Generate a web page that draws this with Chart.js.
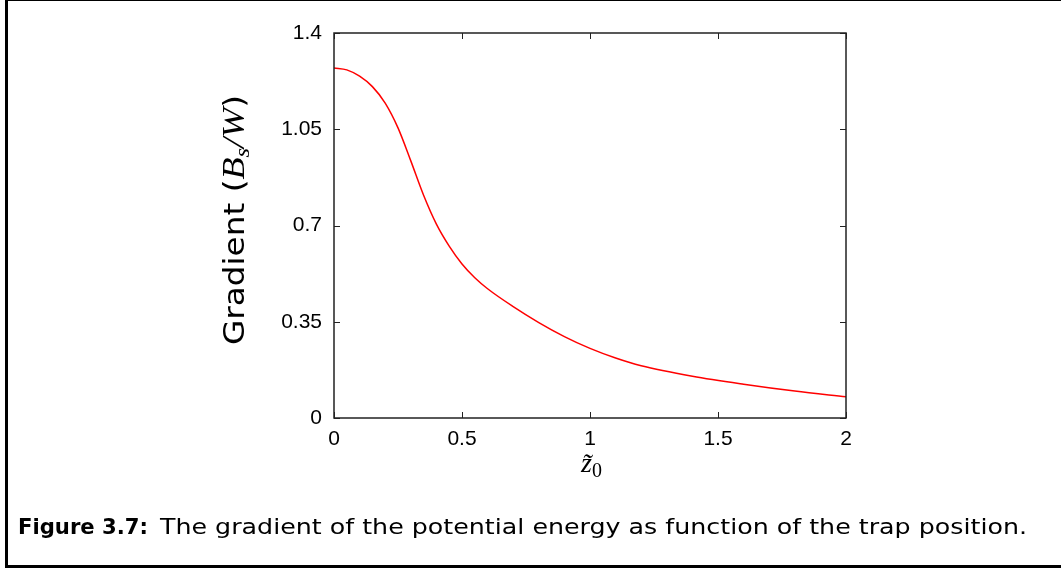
<!DOCTYPE html>
<html>
<head>
<meta charset="utf-8">
<script src="https://cdn.jsdelivr.net/npm/chart.js@4.4.1/dist/chart.umd.min.js"></script>
<style>
  html, body { margin: 0; padding: 0; background: #fff; }
  body { width: 1061px; height: 570px; position: relative; overflow: hidden; }
  #frame {
    position: absolute; left: 5px; top: 0; width: 1100px; height: 564px;
    border-left: 3px solid #000; border-top: 1px solid #000; border-bottom: 3px solid #000;
  }
  #wrap { position: absolute; left: 0; top: 0; width: 1061px; height: 570px; }
  .cap {
    position: absolute; top: 513px; white-space: nowrap; line-height: 28px;
    font-family: "DejaVu Sans", sans-serif; font-size: 22px; color: #000; transform-origin: 0 0;
  }
  #cap-b { left: 18px; font-weight: bold; }
  #cap-r { left: 160px; }
</style>
</head>
<body>
<div id="frame"></div>
<div id="wrap"><canvas id="grad-Chart" width="1061" height="570"></canvas></div>
<div class="cap" id="cap-b">Figure 3.7:</div>
<div class="cap" id="cap-r">The gradient of the potential energy as function of the trap position.</div>
<script>
// 読み取った値
const zValues = [0, 0.05, 0.1, 0.15, 0.2, 0.25, 0.3, 0.35, 0.4, 0.45, 0.5, 0.55, 0.6, 0.7, 0.8, 0.9, 1.0, 1.1, 1.2, 1.4, 1.6, 1.8, 2.0];
const gradValues = [1.273, 1.266, 1.243, 1.205, 1.145, 1.055, 0.935, 0.81, 0.705, 0.625, 0.56, 0.51, 0.47, 0.405, 0.347, 0.296, 0.253, 0.218, 0.19, 0.152, 0.123, 0.098, 0.077];
const xTicks = [0, 0.5, 1, 1.5, 2];
const yTicks = [0, 0.35, 0.7, 1.05, 1.4];
const xTickLabels = ["0", "0.5", "1", "1.5", "2"];
const yTickLabels = ["0", "0.35", "0.7", "1.05", "1.4"];

document.addEventListener("DOMContentLoaded", () => {
  // キャプションの幅を合わせる
  [["cap-b", 130], ["cap-r", 867]].forEach(([id, target]) => {
    const el = document.getElementById(id);
    const w = el.getBoundingClientRect().width;
    el.style.transform = "scaleX(" + (target / w).toFixed(4) + ")";
  });

  const ctx = document.getElementById("grad-Chart");
  if (!ctx) {
    console.error("Canvas element not found");
    return;
  }

  // 枠線と内向きの目盛り、軸タイトル
  const framePlugin = {
    id: "frame-ticks",
    afterDraw(chart) {
      const { ctx, chartArea: { left, right, top, bottom } } = chart;
      const xs = chart.scales.x;
      const ys = chart.scales.y;
      ctx.save();
      ctx.strokeStyle = "#222";
      ctx.lineWidth = 1.5;
      ctx.strokeRect(left, top, right - left, bottom - top);
      ctx.lineWidth = 1;
      ctx.beginPath();
      xTicks.forEach((v) => {
        const px = Math.round(xs.getPixelForValue(v)) + 0.5;
        ctx.moveTo(px, bottom); ctx.lineTo(px, bottom - 6);
        ctx.moveTo(px, top); ctx.lineTo(px, top + 6);
      });
      yTicks.forEach((v) => {
        const py = Math.round(ys.getPixelForValue(v)) + 0.5;
        ctx.moveTo(left, py); ctx.lineTo(left + 6, py);
        ctx.moveTo(right, py); ctx.lineTo(right - 6, py);
      });
      ctx.stroke();

      // y軸タイトル: Gradient (B_s/W)
      ctx.fillStyle = "#000";
      ctx.textBaseline = "alphabetic";
      const parts = [
        { t: "Gradient (", f: "28px 'DejaVu Sans', sans-serif", dy: 0 },
        { t: "B", f: "italic 31px 'Liberation Serif', serif", dy: 0 },
        { t: "s", f: "italic 21px 'Liberation Serif', serif", dy: 5 },
        { t: "/W", f: "italic 31px 'Liberation Serif', serif", dy: 0 },
        { t: ")", f: "28px 'DejaVu Sans', sans-serif", dy: 0 },
      ];
      let total = 0;
      parts.forEach((p) => { ctx.font = p.f; p.w = ctx.measureText(p.t).width; total += p.w; });
      ctx.translate(244, 220);
      ctx.rotate(-Math.PI / 2);
      ctx.scale(250 / total, 1);
      let x0 = -total / 2;
      parts.forEach((p) => { ctx.font = p.f; ctx.fillText(p.t, x0, p.dy); x0 += p.w; });
      ctx.setTransform(1, 0, 0, 1, 0, 0);

      // x軸タイトル: z̃0
      const cx = (left + right) / 2;
      ctx.font = "italic 28px 'Liberation Serif', serif";
      ctx.textAlign = "right";
      ctx.fillText("z\u0303", cx + 2, 472);
      ctx.font = "20px 'Liberation Serif', serif";
      ctx.textAlign = "left";
      ctx.fillText("0", cx + 2, 477);
      ctx.restore();
    },
  };

  new Chart(ctx, {
    type: "line",
    data: {
      labels: zValues,
      datasets: [
        {
          data: zValues.map((z, i) => ({ x: z, y: gradValues[i] })),
          borderColor: "#ff0000",
          borderWidth: 1.5,
          pointRadius: 0,
          cubicInterpolationMode: "monotone",
          fill: false,
        },
      ],
    },
    options: {
      responsive: false,
      animation: false,
      events: [],
      layout: { padding: { left: 274, top: 33, right: 215, bottom: 112 } },
      plugins: { legend: { display: false }, tooltip: { enabled: false } },
      scales: {
        x: {
          type: "linear",
          min: 0,
          max: 2,
          afterBuildTicks: (s) => { s.ticks = xTicks.map((v) => ({ value: v })); },
          afterFit: (s) => { s.height = 40; },
          grid: { display: false, drawTicks: false },
          border: { display: false },
          ticks: {
            padding: 9,
            color: "#000",
            font: { family: "'Liberation Sans', Arial, sans-serif", size: 21 },
            callback: (v, i) => xTickLabels[i],
            maxRotation: 0,
          },
        },
        y: {
          type: "linear",
          min: 0,
          max: 1.4,
          afterBuildTicks: (s) => { s.ticks = yTicks.map((v) => ({ value: v })); },
          afterFit: (s) => { s.width = 60; },
          grid: { display: false, drawTicks: false },
          border: { display: false },
          ticks: {
            padding: 12,
            color: "#000",
            font: { family: "'Liberation Sans', Arial, sans-serif", size: 21 },
            callback: (v, i) => yTickLabels[i],
          },
        },
      },
    },
    plugins: [framePlugin],
  });
});
</script>
</body>
</html>
